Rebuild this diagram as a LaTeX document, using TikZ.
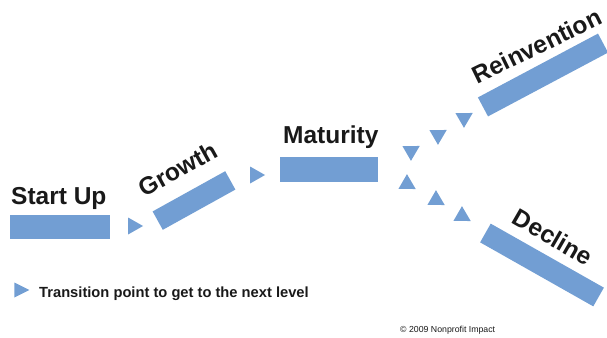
\documentclass[tikz,border=0pt]{standalone}
\usepackage{fontspec}
\setmainfont{Liberation Sans}
\usetikzlibrary{shapes.geometric}
\definecolor{barblue}{RGB}{114,158,211}
\definecolor{txt}{RGB}{25,25,25}
\tikzset{
  bar/.style={fill=barblue, draw=none, inner sep=0pt, rectangle},
  tri/.style={fill=barblue, draw=none, inner sep=0pt, isosceles triangle,
    isosceles triangle stretches, minimum width=17pt, minimum height=15pt},
  label/.style={text=txt, inner sep=0pt, font=\bfseries\fontsize{24.5}{28}\selectfont}
}
\begin{document}
\begin{tikzpicture}[x=1pt,y=-1pt]
\useasboundingbox (0,0) rectangle (607,337);
% bars
\node[bar, minimum width=100pt, minimum height=24pt] (startup) at (60,227) {};
\node[bar, minimum width=83pt, minimum height=21pt, rotate=29] (growth) at (194,200.5) {};
\node[bar, minimum width=98pt, minimum height=25pt] (maturity) at (329,169.5) {};
\node[bar, minimum width=136pt, minimum height=21.5pt, rotate=28] (reinv) at (543,75) {};
\node[bar, minimum width=130pt, minimum height=21.5pt, rotate=-29.5] (decline) at (542,265) {};
% labels
\node[label, anchor=base west] (lstart) at (11,204) {Start Up};
\node[label, rotate=29] (lgrowth) at (178,169) {Growth};
\node[label, anchor=base west] (lmat) at (283,143) {Maturity};
\node[label, rotate=26] (lreinv) at (537,46) {Reinvention};
\node[label, rotate=-30] (ldecl) at (553,237) {Decline};
% transition triangles
\node[tri] (t1) at (133,226) {};
\node[tri] (t2) at (255,175) {};
\node[tri, rotate=30] (u1) at (411,151) {};
\node[tri, rotate=30] (u2) at (438,135) {};
\node[tri, rotate=30] (u3) at (464,118) {};
\node[tri, rotate=-30] (d1) at (407,184) {};
\node[tri, rotate=-30] (d2) at (436,200) {};
\node[tri, rotate=-30] (d3) at (462,216) {};
% legend
\node[tri, minimum width=15pt, minimum height=15pt] (legtri) at (19,290) {};
\node[text=txt, inner sep=0pt, anchor=base west, font=\bfseries\fontsize{14.7}{18}\selectfont] (legtxt) at (39,297) {Transition point to get to the next level};
\node[text=txt, inner sep=0pt, anchor=base west, font=\fontsize{8.75}{10}\selectfont] (copy) at (400,332) {© 2009 Nonprofit Impact};
\end{tikzpicture}
\end{document}
